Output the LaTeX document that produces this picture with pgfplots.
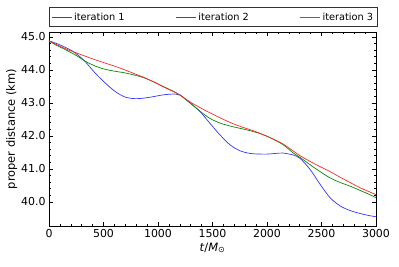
\documentclass[border=0pt]{standalone}
\usepackage{pgfplots}
\pgfplotsset{compat=1.18}
\usepackage{fontspec}
\setmainfont{DejaVu Sans}
\definecolor{c1}{rgb}{0.2,0.2,1}
\definecolor{c2}{rgb}{0,0.55,0}
\definecolor{c3}{rgb}{1,0.15,0.15}
\begin{document}
\begin{tikzpicture}
\begin{axis}[
  name=ax,
  scale only axis,
  width=327bp, height=194bp,
  xmin=0, xmax=3000,
  ymin=39.27, ymax=45.15,
  xtick={0,500,1000,1500,2000,2500,3000},
  ytick={40,41,42,43,44,45},
  minor x tick num=4,
  minor y tick num=4,
  tick align=inside,
  xtick pos=both, ytick pos=both,
  major tick length=4bp,
  minor tick length=2bp,
  tick style={black, line width=0.6pt},
  axis line style={line width=0.8pt},
  scaled ticks=false,
  /pgf/number format/assume math mode=true,
  yticklabel style={/pgf/number format/fixed, /pgf/number format/fixed zerofill, /pgf/number format/precision=1},
  xticklabel style={/pgf/number format/fixed, /pgf/number format/1000 sep={}},
  ticklabel style={font=\fontsize{11}{13}\selectfont},
  xlabel={\textit{t}/\textit{M}\textsubscript{⊙}},
  ylabel={proper distance (km)},
  label style={font=\fontsize{11.5}{13}\selectfont},
  xlabel style={yshift=2bp},
  ylabel style={yshift=-3bp},
  legend columns=3,
  legend style={at={(0,1.026)}, anchor=south west, draw=black!80, line width=0.9pt,
    font=\fontsize{9.8}{11}\selectfont, inner xsep=2bp, inner ysep=3bp,
    /tikz/every even column/.append style={column sep=49bp}},
  legend image code/.code={\draw[#1, line width=0.7pt] (0bp,0bp) -- (20bp,0bp);},
  every axis plot/.append style={line width=0.7pt},
]
\addplot[c1, smooth] coordinates {
(0,44.88) (55,44.82) (147,44.69) (239,44.52) (330,44.26) (422,43.91) (514,43.61)
(606,43.35) (697,43.18) (789,43.13) (881,43.15) (972,43.20) (1060,43.25) (1156,43.27)
(1202,43.24) (1294,43.00) (1385,42.74) (1477,42.38) (1569,42.03) (1661,41.73)
(1752,41.55) (1844,41.47) (1936,41.45) (2010,41.45) (2080,41.47) (2150,41.48)
(2242,41.42) (2303,41.32) (2394,40.99) (2486,40.54) (2578,40.13) (2670,39.88)
(2761,39.74) (2853,39.65) (2930,39.59) (3000,39.55)};
\addlegendentry{iteration 1}
\addplot[c2, smooth] coordinates {
(0,44.88) (55,44.77) (147,44.62) (239,44.46) (330,44.27) (422,44.12) (514,44.02)
(606,43.96) (697,43.91) (789,43.84) (881,43.75) (972,43.62) (1060,43.48) (1156,43.33)
(1202,43.24) (1294,43.00) (1385,42.75) (1477,42.53) (1569,42.39) (1661,42.30)
(1752,42.23) (1844,42.16) (1936,42.07) (2010,41.98) (2080,41.86) (2150,41.73)
(2242,41.48) (2303,41.35) (2394,41.13) (2486,40.92) (2578,40.73) (2670,40.59)
(2761,40.48) (2853,40.35) (2930,40.24) (3000,40.13)};
\addlegendentry{iteration 2}
\addplot[c3, smooth] coordinates {
(0,44.88) (55,44.79) (147,44.65) (239,44.53) (330,44.42) (422,44.31) (514,44.21)
(606,44.11) (697,44.00) (789,43.88) (881,43.76) (972,43.62) (1060,43.47) (1156,43.32)
(1202,43.24) (1294,43.03) (1385,42.86) (1477,42.70) (1569,42.55) (1661,42.41)
(1752,42.29) (1844,42.19) (1936,42.08) (2010,41.97) (2080,41.87) (2150,41.75)
(2242,41.54) (2303,41.40) (2394,41.23) (2486,41.07) (2578,40.92) (2670,40.75)
(2761,40.59) (2853,40.43) (2930,40.32) (3000,40.22)};
\addlegendentry{iteration 3}
\end{axis}
\path (ax.south west) ++(-49bp,-41bp) (ax.north east) ++(23bp,32bp);
\end{tikzpicture}
\end{document}
